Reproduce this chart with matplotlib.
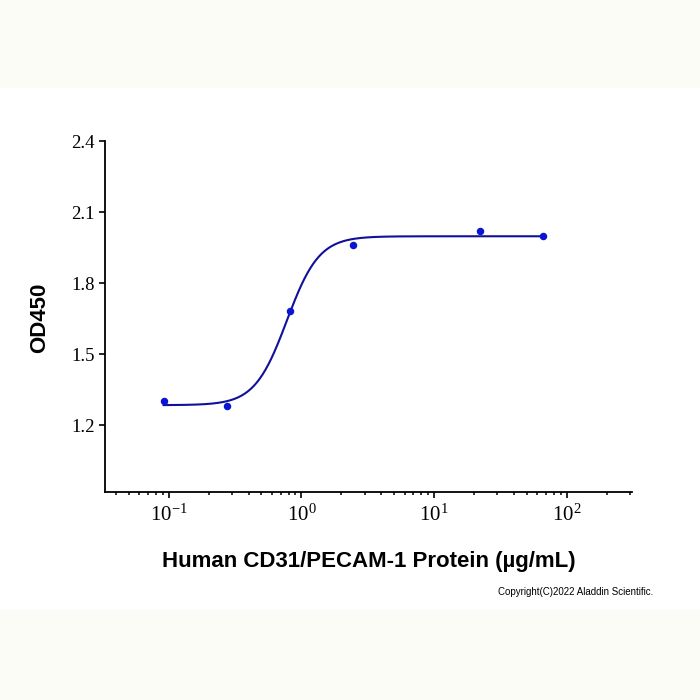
import matplotlib
matplotlib.use("Agg")
import matplotlib.pyplot as plt
import numpy as np
from matplotlib.patches import Rectangle
from matplotlib.ticker import LogLocator, LogFormatterSciNotation, NullFormatter

# concentration (ug/mL) and OD450 readings
conc = [0.0914, 0.274, 0.823, 2.47, 22.2, 66.7]
od450 = [1.301, 1.282, 1.682, 1.959, 2.021, 1.999]

y_ticks = [1.2, 1.5, 1.8, 2.1, 2.4]
x_label = "Human CD31/PECAM-1 Protein (\u00b5g/mL)"
y_label = "OD450"
copyright_text = "Copyright(C)2022 Aladdin Scientific."

plt.rcParams["mathtext.fontset"] = "custom"
plt.rcParams["mathtext.rm"] = "Liberation Serif"
plt.rcParams["mathtext.it"] = "Liberation Serif"
plt.rcParams["axes.unicode_minus"] = False


def four_pl(x, bottom, top, ec50, hill):
    return bottom + (top - bottom) / (1 + (ec50 / x) ** hill)


# simple 4PL fit: grid over ec50/hill, bottom/top by linear least squares
xd = np.array(conc)
yd = np.array(od450)
best = None
for lec in np.linspace(-1, 1, 401):
    for h in np.linspace(0.5, 8, 301):
        f = 1 / (1 + (10 ** lec / xd) ** h)
        A = np.column_stack([1 - f, f])
        coef, *_ = np.linalg.lstsq(A, yd, rcond=None)
        err = np.sum((A @ coef - yd) ** 2)
        if best is None or err < best[0]:
            best = (err, coef[0], coef[1], 10 ** lec, h)
_, bottom, top, ec50, hill = best

fig = plt.figure(figsize=(7, 7), dpi=100)
fig.patch.set_facecolor("white")
cream = "#fbfcf5"
fig.patches.append(Rectangle((0, 1 - 88 / 700), 1, 88 / 700, transform=fig.transFigure,
                             facecolor=cream, edgecolor="none", zorder=0))
fig.patches.append(Rectangle((0, 0), 1, 90 / 700, transform=fig.transFigure,
                             facecolor=cream, edgecolor="none", zorder=0))

ax = fig.add_axes([104.5 / 700, 1 - 492 / 700, (632 - 104.5) / 700, (492 - 141) / 700])
ax.set_facecolor("none")

xs = np.logspace(np.log10(conc[0]), np.log10(conc[-1]), 400)
ax.plot(xs, four_pl(xs, bottom, top, ec50, hill), color="#10109a", lw=1.5, zorder=2)
ax.plot(conc, od450, "o", color="#0a14d2", ms=5.4, mec="none", zorder=3)

ax.set_xscale("log")
ax.set_xlim(10 ** -1.485, 10 ** 2.493)
ax.set_ylim(0.917, 2.4)
ax.set_yticks(y_ticks)
ax.set_yticklabels([f"{v:.1f}" for v in y_ticks])
ax.xaxis.set_major_locator(LogLocator(base=10, numticks=10))
ax.xaxis.set_major_formatter(LogFormatterSciNotation())
ax.xaxis.set_minor_locator(LogLocator(base=10, subs=np.arange(2, 10), numticks=20))
ax.xaxis.set_minor_formatter(NullFormatter())

for s in ["top", "right"]:
    ax.spines[s].set_visible(False)
for s in ["left", "bottom"]:
    ax.spines[s].set_linewidth(1.3)
    ax.spines[s].set_color("black")

ax.tick_params(axis="y", which="major", direction="out", length=4, width=1.2,
               labelsize=13.5, color="black", pad=3)
ax.tick_params(axis="x", which="major", direction="out", length=4, width=1.2,
               labelsize=15, color="black", pad=5)
ax.tick_params(axis="x", which="minor", direction="out", length=2.5, width=1.1)
for lab in ax.get_yticklabels():
    lab.set_family("Liberation Serif")
for lab in ax.get_xticklabels():
    lab.set_family("Liberation Serif")

fig.text(369 / 700, 1 - 561 / 700, x_label, ha="center", va="center",
         fontsize=16, fontweight="bold", family="Liberation Sans")
fig.text(40 / 700, 1 - 318 / 700, y_label, ha="center", va="center", rotation=90,
         fontsize=16, fontweight="bold", family="Liberation Sans")
fig.text(653 / 700, 1 - 592 / 700, copyright_text, ha="right", va="center",
         fontsize=7, family="Liberation Sans")

fig.savefig("out.png", dpi=100)
